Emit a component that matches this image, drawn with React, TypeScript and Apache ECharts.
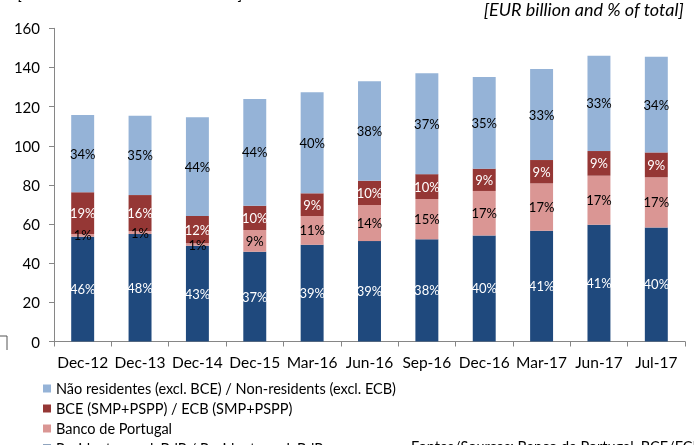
import React, { useEffect, useRef } from "react";
import * as echarts from "echarts";

const categories = ["Dec-12", "Dec-13", "Dec-14", "Dec-15", "Mar-16", "Jun-16", "Sep-16", "Dec-16", "Mar-17", "Jun-17", "Jul-17"];

// EUR billion
const residents = [53.5, 54.9, 48.9, 45.9, 49.4, 51.3, 52.2, 54.2, 56.6, 59.7, 58.3];
const bancoPortugal = [1.4, 1.5, 1.3, 11.0, 14.7, 18.4, 20.6, 22.7, 24.2, 25.0, 25.6];
const ecb = [21.3, 18.4, 13.9, 12.5, 11.6, 12.4, 12.7, 11.4, 11.9, 12.6, 12.7];
const nonResidents = [39.5, 40.5, 50.4, 54.5, 51.6, 50.9, 51.5, 46.8, 46.5, 48.7, 48.9];

// % of total (as labelled)
const residentsPct = [46, 48, 43, 37, 39, 39, 38, 40, 41, 41, 40];
const bancoPortugalPct = [1, 1, 1, 9, 11, 14, 15, 17, 17, 17, 17];
const ecbPct = [19, 16, 12, 10, 9, 10, 10, 9, 9, 9, 9];
const nonResidentsPct = [34, 35, 44, 44, 40, 38, 37, 35, 33, 33, 34];

const yTicks = { min: 0, max: 160, interval: 20 };

const names = {
  nonRes: "Não residentes (excl. BCE) / Non-residents (excl. ECB)",
  ecb: "BCE (SMP+PSPP) / ECB (SMP+PSPP)",
  bdp: "Banco de Portugal",
  res: "Residentes excl. BdP / Residents excl. BdP",
};

const FONT = "Lato, 'Liberation Sans', sans-serif";

export default function App() {
  const ref = useRef<HTMLDivElement>(null);
  useEffect(() => {
    if (!ref.current) return;
    const chart = echarts.init(ref.current, null, { renderer: "svg" });
    const mk = (name: string, data: number[], pct: number[], color: string, labelColor: string) => ({
      name,
      type: "bar",
      stack: "total",
      barWidth: "40%",
      data,
      itemStyle: { color },
      label: {
        show: true,
        position: "inside",
        color: labelColor,
        fontFamily: FONT,
        fontSize: 13,
        formatter: (p: any) => pct[p.dataIndex] + "%",
      },
    });
    chart.setOption({
      animation: false,
      textStyle: { fontFamily: FONT },
      grid: { left: 54, right: 9, top: 28.3, bottom: 103.5, containLabel: false },
      legend: {
        orient: "vertical",
        left: 43,
        top: 381,
        height: 100,
        padding: 0,
        itemWidth: 8,
        itemHeight: 8,
        itemGap: 5,
        icon: "rect",
        data: [names.nonRes, names.ecb, names.bdp, names.res],
        textStyle: { fontFamily: FONT, fontSize: 14.5, lineHeight: 14, color: "#000" },
      },
      xAxis: {
        type: "category",
        data: categories,
        axisLine: { lineStyle: { color: "#868686", width: 1 } },
        axisTick: { show: true, length: 5, lineStyle: { color: "#868686" } },
        axisLabel: { color: "#000", fontSize: 15.5, margin: 12.5, fontFamily: FONT, interval: 0 },
      },
      yAxis: {
        type: "value",
        min: yTicks.min,
        max: yTicks.max,
        interval: yTicks.interval,
        axisLine: { show: true, lineStyle: { color: "#868686", width: 1 } },
        axisTick: { show: true, length: 5, lineStyle: { color: "#868686" } },
        splitLine: { show: false },
        axisLabel: { color: "#000", fontSize: 15, margin: 14, fontFamily: FONT },
      },
      graphic: [
        {
          type: "text",
          left: 18,
          top: -15,
          style: { text: "[mil milhões de euros e % do total]", font: "italic 16px " + FONT, fill: "#000" },
        },
        {
          type: "text",
          right: 10,
          top: 0,
          style: { text: "[EUR billion and % of total]", font: "italic 18px " + FONT, fill: "#000" },
        },
        {
          type: "text",
          left: 411,
          top: 439,
          style: { text: "Fontes/Sources: Banco de Portugal, BCE/ECB", font: "14.5px " + FONT, fill: "#000" },
        },
        {
          type: "polyline",
          shape: { points: [[0, 336], [7, 336], [7, 350]] },
          style: { stroke: "#555", lineWidth: 1, fill: "none" },
        },
      ],
      series: [
        mk(names.res, residents, residentsPct, "#1F497D", "#fff"),
        mk(names.bdp, bancoPortugal, bancoPortugalPct, "#DA9694", "#000"),
        mk(names.ecb, ecb, ecbPct, "#953735", "#fff"),
        mk(names.nonRes, nonResidents, nonResidentsPct, "#95B3D7", "#000"),
      ],
    });
    return () => chart.dispose();
  }, []);
  return <div ref={ref} style={{ position: "fixed", left: 0, top: 0, width: 694, height: 445 }} />;
}
